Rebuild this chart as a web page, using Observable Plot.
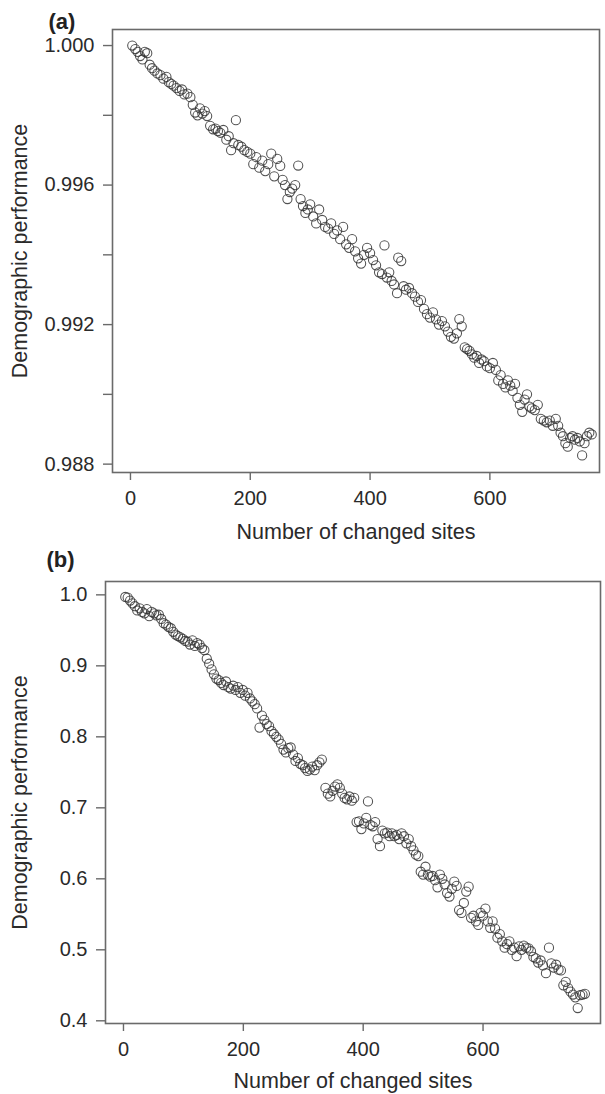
<!DOCTYPE html>
<html>
<head>
<meta charset="utf-8">
<script src="https://cdn.jsdelivr.net/npm/d3@7"></script>
<script src="https://cdn.jsdelivr.net/npm/@observablehq/plot@0.6"></script>
<style>
  html, body { margin: 0; padding: 0; background: #fff; }
  #chart { width: 605px; }
  #chart svg { display: block; }
</style>
</head>
<body>
<div id="chart"></div>
<script>
// ---------- Panel (a) ----------
const sitesA = [3,8,12,16,20,24,28,32,36,40,45,50,55,60,64,68,72,77,82,86,90,95,100,104,108,112,116,120,124,128,133,138,142,146,150,155,160,164,168,172,176,180,185,190,195,200,205,210,215,220,225,230,235,240,245,250,254,258,262,266,270,275,280,284,288,292,296,300,305,310,315,320,325,330,335,340,345,350,355,360,365,370,375,380,385,390,395,400,405,410,415,420,424,428,432,436,440,445,447,452,456,460,465,470,475,480,485,490,495,500,505,510,515,520,525,530,535,540,545,549,553,558,562,566,570,574,578,582,586,590,595,600,605,610,614,618,622,626,630,634,638,642,646,650,654,658,662,666,670,675,680,685,690,695,700,705,710,714,718,722,726,730,734,738,742,746,750,754,758,762,766,770];
const perfA = [1.00000,0.99990,0.99982,0.99970,0.99960,0.99982,0.99978,0.99945,0.99935,0.99928,0.99920,0.99915,0.99905,0.99910,0.99895,0.99890,0.99885,0.99878,0.99870,0.99874,0.99860,0.99862,0.99852,0.99830,0.99808,0.99800,0.99820,0.99805,0.99812,0.99798,0.99770,0.99760,0.99762,0.99755,0.99750,0.99758,0.99730,0.99740,0.99700,0.99720,0.99786,0.99715,0.99710,0.99700,0.99695,0.99690,0.99660,0.99680,0.99650,0.99670,0.99640,0.99660,0.99690,0.99625,0.99675,0.99655,0.99615,0.99600,0.99560,0.99580,0.99590,0.99600,0.99656,0.99560,0.99540,0.99520,0.99530,0.99545,0.99510,0.99490,0.99530,0.99500,0.99480,0.99475,0.99490,0.99460,0.99470,0.99445,0.99480,0.99430,0.99420,0.99445,0.99410,0.99390,0.99375,0.99400,0.99420,0.99405,0.99385,0.99370,0.99350,0.99345,0.99427,0.99335,0.99350,0.99325,0.99315,0.99290,0.99392,0.99382,0.99310,0.99300,0.99305,0.99290,0.99280,0.99265,0.99270,0.99245,0.99230,0.99220,0.99235,0.99215,0.99200,0.99210,0.99195,0.99180,0.99165,0.99160,0.99175,0.99216,0.99195,0.99135,0.99130,0.99125,0.99115,0.99105,0.99110,0.99090,0.99100,0.99095,0.99080,0.99075,0.99090,0.99070,0.99040,0.99055,0.99030,0.99020,0.99040,0.99025,0.99010,0.99030,0.98990,0.98970,0.98950,0.98985,0.99000,0.98965,0.98960,0.98955,0.98970,0.98930,0.98925,0.98920,0.98925,0.98910,0.98930,0.98910,0.98890,0.98880,0.98860,0.98850,0.98875,0.98880,0.98870,0.98875,0.98865,0.98825,0.98860,0.98880,0.98890,0.98885];
const xTicksA = [0, 200, 400, 600];
const yTicksA = [0.988, 0.990, 0.992, 0.994, 0.996, 0.998, 1.000];
const yLabelsA = ["0.988", "", "0.992", "", "0.996", "", "1.000"];

// ---------- Panel (b) ----------
const sitesB = [3,7,11,15,19,23,27,31,35,39,43,47,51,55,59,63,67,71,75,79,83,87,91,95,99,103,107,111,115,119,123,127,131,135,139,143,147,151,155,159,163,167,171,175,179,183,187,191,195,199,203,207,211,215,219,223,227,231,235,239,243,247,251,255,259,263,267,271,275,279,283,287,291,295,299,303,307,311,315,319,323,327,331,337,341,345,349,353,357,361,365,369,373,377,381,385,389,393,397,401,405,408,412,416,420,424,428,432,436,440,444,448,452,456,460,464,468,472,476,480,484,488,492,496,500,504,508,512,516,520,524,528,532,536,540,544,548,552,556,560,564,568,572,576,580,584,588,592,596,600,604,608,612,616,620,624,628,632,636,640,644,648,652,656,660,664,668,672,676,680,684,688,692,696,700,705,710,714,718,722,726,730,734,738,742,746,750,754,758,762,766,770];
const perfB = [0.997,0.996,0.992,0.988,0.984,0.978,0.981,0.976,0.974,0.980,0.970,0.976,0.974,0.971,0.972,0.966,0.960,0.958,0.955,0.953,0.948,0.944,0.942,0.940,0.938,0.935,0.934,0.930,0.936,0.928,0.932,0.930,0.925,0.922,0.910,0.903,0.895,0.888,0.882,0.880,0.876,0.873,0.878,0.870,0.868,0.872,0.866,0.870,0.862,0.866,0.858,0.862,0.854,0.850,0.846,0.840,0.813,0.830,0.824,0.818,0.815,0.808,0.804,0.800,0.796,0.790,0.782,0.778,0.784,0.785,0.775,0.766,0.770,0.762,0.760,0.756,0.752,0.754,0.758,0.753,0.760,0.764,0.768,0.728,0.720,0.716,0.724,0.730,0.733,0.728,0.720,0.714,0.712,0.716,0.710,0.714,0.680,0.681,0.670,0.678,0.686,0.709,0.676,0.674,0.680,0.656,0.646,0.668,0.664,0.665,0.660,0.664,0.660,0.662,0.656,0.664,0.660,0.650,0.656,0.646,0.640,0.634,0.632,0.610,0.606,0.617,0.606,0.603,0.604,0.598,0.588,0.606,0.600,0.592,0.580,0.575,0.586,0.596,0.590,0.556,0.552,0.566,0.582,0.589,0.545,0.548,0.540,0.535,0.552,0.548,0.558,0.540,0.531,0.540,0.530,0.517,0.522,0.512,0.503,0.508,0.512,0.500,0.503,0.491,0.505,0.500,0.506,0.503,0.502,0.498,0.490,0.488,0.482,0.485,0.478,0.467,0.503,0.481,0.475,0.479,0.472,0.471,0.450,0.455,0.446,0.441,0.437,0.433,0.418,0.436,0.437,0.438];
const xTicksB = [0, 200, 400, 600];
const yTicksB = [0.4, 0.5, 0.6, 0.7, 0.8, 0.9, 1.0];

const xTitle = "Number of changed sites";
const yTitle = "Demographic performance";

// ---------- drawing ----------
const font = "'Liberation Sans', Arial, Helvetica, sans-serif";
const frameColor = "#6a6a6a";
const textColor = "#2a2a2a";

function panel({sites, perf, xDomain, yDomain, xTicks, yTicks, yFormat, margins, tag, tagDx, tagDy, ylabDx, xlabDy}) {
  const data = sites.map((s, i) => ({s, p: perf[i]}));
  return Plot.plot({
    width: 605,
    height: 547,
    marginTop: margins[0],
    marginRight: margins[1],
    marginBottom: margins[2],
    marginLeft: margins[3],
    style: {fontFamily: font, fontSize: "20px", background: "#fff", overflow: "visible", color: textColor},
    x: {domain: xDomain},
    y: {domain: yDomain},
    marks: [
      Plot.frame({stroke: frameColor, strokeWidth: 1.6}),
      Plot.axisX({ticks: xTicks, tickSize: 8, tickPadding: 10, stroke: frameColor, strokeWidth: 1.4, fill: textColor, label: null, fontSize: 20}),
      Plot.axisY({ticks: yTicks, tickFormat: yFormat, tickSize: 9, tickPadding: 9, stroke: frameColor, strokeWidth: 1.4, fill: textColor, label: null, fontSize: 20}),
      Plot.dot(data, {x: "s", y: "p", r: 4.6, stroke: "#333", strokeWidth: 1.05, strokeOpacity: 0.85, fill: "none"}),
      Plot.text([xTitle], {frameAnchor: "bottom", textAnchor: "middle", lineAnchor: "middle", dy: xlabDy, fontSize: 21.5, fill: textColor}),
      Plot.text([yTitle], {frameAnchor: "left", textAnchor: "middle", lineAnchor: "middle", dx: ylabDx, rotate: -90, fontSize: 21.5, fill: textColor}),
      Plot.text([tag], {frameAnchor: "top-left", textAnchor: "start", lineAnchor: "middle", dx: tagDx, dy: tagDy, fontSize: 22, fontWeight: "bold", fill: "#222"})
    ]
  });
}

const chart = document.getElementById("chart");
chart.append(panel({
  sites: sitesA, perf: perfA,
  xDomain: [-30, 783], yDomain: [0.98776, 1.00046],
  xTicks: xTicksA, yTicks: yTicksA,
  yFormat: (d, i) => yLabelsA[yTicksA.indexOf(d)],
  margins: [29, 6, 75, 112],
  tag: "(a)", tagDx: -64, tagDy: -7.5, ylabDx: -92, xlabDy: 60
}));
chart.append(panel({
  sites: sitesB, perf: perfB,
  xDomain: [-30, 796], yDomain: [0.3962, 1.0188],
  xTicks: xTicksB, yTicks: yTicksB,
  yFormat: d => d.toFixed(1),
  margins: [34, 5, 71, 105],
  tag: "(b)", tagDx: -59, tagDy: -22, ylabDx: -85, xlabDy: 58
}));
</script>
</body>
</html>
